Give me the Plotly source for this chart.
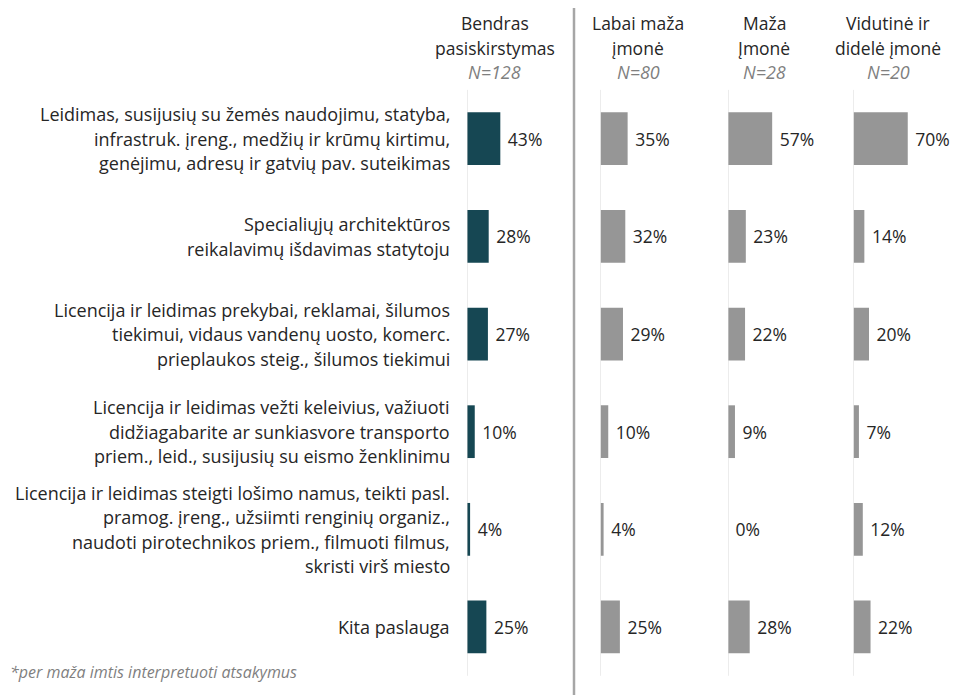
import plotly.graph_objects as go

# ---------------- data ----------------
categories = [
    "Leidimas, susijusių su žemės naudojimu, statyba,<br>infrastruk. įreng., medžių ir krūmų kirtimu,<br>genėjimu, adresų ir gatvių pav. suteikimas",
    "Specialiųjų architektūros<br>reikalavimų išdavimas statytoju",
    "Licencija ir leidimas prekybai, reklamai, šilumos<br>tiekimui, vidaus vandenų uosto, komerc.<br>prieplaukos steig., šilumos tiekimui",
    "Licencija ir leidimas vežti keleivius, važiuoti<br>didžiagabarite ar sunkiasvore transporto<br>priem., leid., susijusių su eismo ženklinimu",
    "Licencija ir leidimas steigti lošimo namus, teikti pasl.<br>pramog. įreng., užsiimti renginių organiz.,<br>naudoti pirotechnikos priem., filmuoti filmus,<br>skristi virš miesto",
    "Kita paslauga",
]
group_titles = ["Bendras<br>pasiskirstymas", "Labai maža<br>įmonė", "Maža<br>Įmonė", "Vidutinė ir<br>didelė įmonė"]
group_n = ["N=128", "N=80", "N=28", "N=20"]
bendras = [43, 28, 27, 10, 4, 25]
labai_maza = [35, 32, 29, 10, 4, 25]
maza = [57, 23, 22, 9, 0, 28]
vidutine_didele = [70, 14, 20, 7, 12, 22]
footnote = "*per maža imtis interpretuoti atsakymus"

series = [bendras, labai_maza, maza, vidutine_didele]
colors = ["#164753", "#969696", "#969696", "#969696"]

# ---------------- layout geometry ----------------
W, H = 953, 695
def px(x):
    return x / W
def py(y):
    return 1 - y / H

base_px = [467, 600.5, 728, 853.5]       # x=0 of each panel (pixels)
panel_w = 77.5                          # pixels for 0..100 %
header_px = [495, 638, 764, 888]        # header centres (pixels)
y_top_px, y_bot_px = 89.9, 675.8
line_h = 24.5
TXT = "#262626"
FONT = "Open Sans"

fig = go.Figure()
for i, vals in enumerate(series):
    ax = "x" if i == 0 else f"x{i+1}"
    fig.add_trace(go.Bar(
        x=vals, y=categories, orientation="h", xaxis=ax, yaxis="y",
        marker=dict(color=colors[i], line=dict(width=0)),
        width=0.54,
        text=[f"\u00a0{v}%" for v in vals], textposition="outside",
        textfont=dict(family=FONT, size=17.5, color=TXT),
        cliponaxis=False, showlegend=False, hoverinfo="skip",
    ))

layout = dict(
    width=W, height=H, autosize=False,
    margin=dict(l=0, r=0, t=0, b=0),
    paper_bgcolor="white", plot_bgcolor="white",
    yaxis=dict(
        domain=[py(y_bot_px), py(y_top_px)],
        type="category", categoryorder="array", categoryarray=categories,
        range=[len(categories) - 0.5, -0.5],
        showticklabels=False, showgrid=False, zeroline=False, showline=False,
        anchor="x",
    ),
)
for i in range(4):
    key = "xaxis" if i == 0 else f"xaxis{i+1}"
    layout[key] = dict(
        domain=[px(base_px[i]), px(base_px[i] + panel_w)],
        range=[0, 100], showticklabels=False, showgrid=False,
        zeroline=False, showline=False, anchor="y", fixedrange=True,
    )
fig.update_layout(**layout)

shapes = []
for i in range(4):
    ax = "x" if i == 0 else f"x{i+1}"
    shapes.append(dict(type="line", xref=ax, yref="y domain", x0=0, x1=0, y0=0, y1=1,
                       line=dict(color="#d9d9d9", width=1)))
shapes.append(dict(type="line", xref="paper", yref="paper", x0=px(574), x1=px(574),
                   y0=0, y1=py(8), line=dict(color="#a6a6a6", width=2.5)))
fig.update_layout(shapes=shapes)

ann = []
# category labels, one annotation per line for Excel-like line spacing
for cat in categories:
    lines = cat.split("<br>")
    n = len(lines)
    for j, ln in enumerate(lines):
        ann.append(dict(xref="x", yref="y", x=0, y=cat, xanchor="right", yanchor="middle",
                        xshift=-15, yshift=((n - 1) / 2 - j) * line_h, text=ln, showarrow=False,
                        font=dict(family=FONT, size=18, color=TXT)))
# headers
header_y = [23, 47.5, 72]
for i in range(4):
    lines = group_titles[i].split("<br>")
    for j, ln in enumerate(lines):
        ann.append(dict(xref="paper", yref="paper", x=px(header_px[i]), y=py(header_y[j]),
                        xanchor="center", yanchor="middle", text=ln, showarrow=False,
                        font=dict(family=FONT, size=17.5, color=TXT)))
    ann.append(dict(xref="paper", yref="paper", x=px(header_px[i]), y=py(header_y[2]),
                    xanchor="center", yanchor="middle", text=f"<i>{group_n[i]}</i>", showarrow=False,
                    font=dict(family=FONT, size=18, color="#7f7f7f")))
ann.append(dict(xref="paper", yref="paper", x=px(8), y=py(672), xanchor="left", yanchor="middle",
                text=f"<i>{footnote}</i>", showarrow=False,
                font=dict(family=FONT, size=16, color="#7f7f7f")))
fig.update_layout(annotations=ann)

fig.write_html("out.html",
               config={"displayModeBar": False},
               post_script="document.body.style.margin='0';document.body.style.overflow='hidden';")
